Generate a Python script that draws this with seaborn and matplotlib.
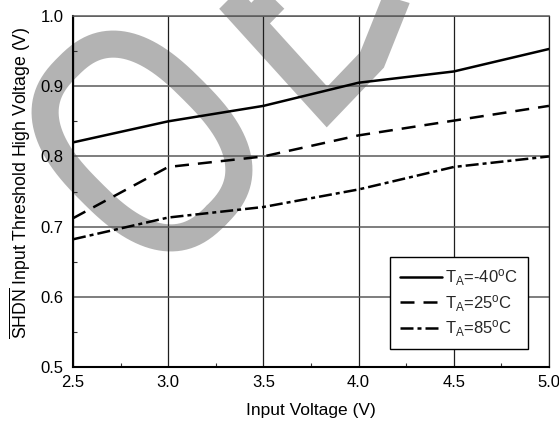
import numpy as np
import pandas as pd
import matplotlib
matplotlib.use('Agg')
import matplotlib.pyplot as plt
import seaborn as sns
from matplotlib.lines import Line2D
from matplotlib.transforms import IdentityTransform

# dados
tensao_entrada = [2.5, 3.0, 3.5, 4.0, 4.5, 5.0]
vth_m40 = [0.820, 0.850, 0.872, 0.905, 0.921, 0.953]
vth_25 = [0.712, 0.785, 0.800, 0.830, 0.851, 0.872]
vth_85 = [0.682, 0.713, 0.728, 0.753, 0.785, 0.800]
rotulos = ['T$_\\mathrm{A}$=-40$^\\mathrm{o}$C',
           'T$_\\mathrm{A}$=25$^\\mathrm{o}$C',
           'T$_\\mathrm{A}$=85$^\\mathrm{o}$C']

sns.set_theme(style='white')
plt.rcParams['font.family'] = ['Liberation Sans', 'DejaVu Sans']
plt.rcParams['mathtext.fontset'] = 'custom'
plt.rcParams['mathtext.rm'] = 'Liberation Sans'
plt.rcParams['mathtext.it'] = 'Liberation Sans:italic'

fig = plt.figure(figsize=(5.59, 4.21), dpi=100)
ax = fig.add_axes([0.1306, 0.128, 0.8514, 0.834])

# marca d'agua "OB" (cinza, atras de tudo) - coordenadas em pixels da imagem
cinza = '#b3b3b3'
t = np.linspace(0, 2 * np.pi, 361)
c, s = np.cos(t), np.sin(t)
ex = 105 * np.sign(c) * np.abs(c) ** (2 / 2.6)
ey = 72 * np.sign(s) * np.abs(s) ** (2 / 2.6)
ox = 142 + 0.7071 * (ex + ey)
oy = 141 + 0.7071 * (ex - ey)
ax.add_artist(Line2D(ox, 421 - oy, color=cinza, linewidth=19.5,
                     transform=IdentityTransform(), clip_on=False, zorder=0.5))
tracos_b = [([200, 230, 327, 372, 396, 402], [-30, 0, 107, 60, 0, -20]),
            ([288, 250], [-15, 24])]
for bx, by in tracos_b:
    ax.add_artist(Line2D(bx, [421 - v for v in by], color=cinza, linewidth=20,
                         solid_joinstyle='miter', solid_capstyle='butt',
                         transform=IdentityTransform(), clip_on=False, zorder=0.5))

estilos = ['-', (0, (5.6, 3.6)), (0, (5.2, 1.6, 1.6, 1.6))]
for serie, rot, ls in zip([vth_m40, vth_25, vth_85], rotulos, estilos):
    sns.lineplot(x=tensao_entrada, y=serie, ax=ax, color='black', linewidth=1.8,
                 linestyle=ls, label=rot, legend=False, zorder=3)

ax.set_xlim(2.5, 5.0)
ax.set_ylim(0.5, 1.0)
ax.set_xticks(np.arange(2.5, 5.01, 0.5))
ax.set_yticks(np.arange(0.5, 1.01, 0.1))
ax.set_xticklabels([f'{v:.1f}' for v in np.arange(2.5, 5.01, 0.5)])
ax.set_yticklabels([f'{v:.1f}' for v in np.arange(0.5, 1.01, 0.1)])
ax.set_xticks(np.arange(2.75, 5.0, 0.5), minor=True)
ax.set_yticks(np.arange(0.55, 1.0, 0.1), minor=True)
ax.tick_params(which='major', length=0, labelsize=12, colors='black')
ax.tick_params(axis='x', which='major', pad=6)
ax.tick_params(axis='y', which='major', pad=7)
ax.tick_params(which='minor', direction='in', length=3, width=0.8,
               left=True, bottom=True, color='#333333')

ax.grid(True, axis='y', color='#5a5a5a', linewidth=1.1)
ax.grid(True, axis='x', color='#1e1e1e', linewidth=0.9)
for g in ax.get_xgridlines() + ax.get_ygridlines():
    g.set_zorder(1)

for lado in ['left', 'bottom']:
    ax.spines[lado].set_color('black')
    ax.spines[lado].set_linewidth(1.5)
ax.spines['top'].set_color('#5a5a5a')
ax.spines['top'].set_linewidth(1.1)
ax.spines['right'].set_color('#1e1e1e')
ax.spines['right'].set_linewidth(0.9)

ax.set_xlabel('Input Voltage (V)', fontsize=12.5, labelpad=9, color='black')
ax.set_ylabel('$\\overline{\\mathrm{SHDN}}$ Input Threshold High Voltage (V)',
              fontsize=12.7, color='black')
ax.yaxis.set_label_coords(-0.084, 0.524)

leg = ax.legend(loc='lower right', bbox_to_anchor=(0.956, 0.051), fontsize=12,
                fancybox=False, shadow=False, framealpha=1, edgecolor='black',
                handlelength=2.5, handletextpad=0.2, labelspacing=0.3,
                borderpad=0.6, borderaxespad=0)
leg.get_frame().set_linewidth(1.0)
leg.set_zorder(5)

fig.savefig('out.png', dpi=100)
